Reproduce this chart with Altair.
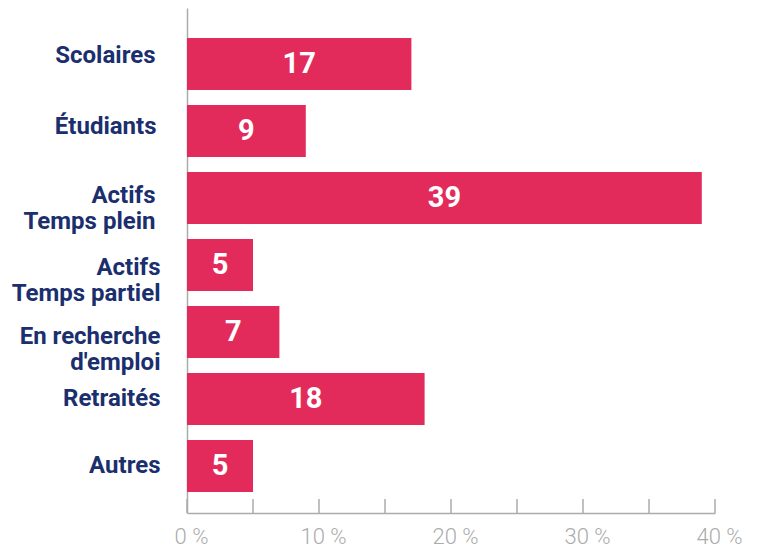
import altair as alt
import pandas as pd

categories = ["Scolaires", "Étudiants", "Actifs\nTemps plein", "Actifs\nTemps partiel",
              "En recherche\nd'emploi", "Retraités", "Autres"]
values = [17, 9, 39, 5, 7, 18, 5]
tick_values = [0, 5, 10, 15, 20, 25, 30, 35, 40]

df = pd.DataFrame({"cat": categories, "value": values})
ticks_df = pd.DataFrame({"t": tick_values})

BAR = "#E32B5B"
NAVY = "#1B2F6E"
GRAY = "#ABABAB"

W, H = 528, 505

x_scale = alt.Scale(domain=[0, 40], nice=False)
y_scale = alt.Scale(paddingInner=0.2239, paddingOuter=0.3806, align=0.588)

x_axis = alt.Axis(values=tick_values,
                  labelExpr="datum.value % 10 == 0 ? datum.value + ' %' : ''",
                  ticks=False, tickSize=0, domainColor=GRAY, domainWidth=1.5,
                  labelColor=GRAY, labelFont="Roboto", labelFontSize=22, labelFontWeight=300,
                  labelPadding=13, labelOffset=4, labelFlush=False, labelOverlap=False,
                  grid=False, title=None)


def has(s):
    return f"indexof(datum.value, \"{s}\") >= 0"


y_axis = alt.Axis(ticks=False, tickSize=0, domainColor=GRAY, domainWidth=1.5,
                  labelColor=NAVY, labelFont="Roboto", labelFontSize=24, labelFontWeight="bold",
                  labelPadding={"condition": [
                      {"test": has("Scolaires"), "value": 32},
                      {"test": has("tudiants"), "value": 31},
                      {"test": has("plein"), "value": 32},
                  ], "value": 27},
                  labelOffset={"condition": [
                      {"test": has("Scolaires"), "value": -8},
                      {"test": has("tudiants"), "value": -4},
                      {"test": has("plein"), "value": -2},
                      {"test": has("partiel"), "value": 3},
                      {"test": has("recherche"), "value": 5},
                  ], "value": 0},
                  labelLineHeight=26, labelLimit=400,
                  labelExpr="split(datum.label, '\\n')", title=None)

base = alt.Chart(df)
bars = base.mark_bar(color=BAR).encode(
    x=alt.X("value:Q", scale=x_scale, axis=x_axis),
    y=alt.Y("cat:N", sort=categories, scale=y_scale, axis=y_axis),
)
text = base.transform_calculate(mid="datum.value / 2").mark_text(
    color="white", font="Roboto", fontSize=29, fontWeight="bold", baseline="middle", align="center"
).encode(
    x=alt.X("mid:Q", scale=x_scale, axis=x_axis),
    y=alt.Y("cat:N", sort=categories, scale=y_scale, axis=y_axis),
    text="value:Q",
)
tick_rules = alt.Chart(ticks_df).mark_rule(color=GRAY, strokeWidth=1.5).encode(
    x=alt.X("t:Q", scale=x_scale, axis=x_axis),
    y=alt.value(H - 14),
    y2=alt.value(H),
)

chart = alt.layer(bars, text, tick_rules).properties(
    width=W, height=H,
    autosize=alt.AutoSizeParams(type="none"),
    padding={"left": 179, "top": 0, "right": 36, "bottom": 34},
).configure_view(stroke=None)

chart.save("out.html", embed_options={"renderer": "svg", "actions": False})
